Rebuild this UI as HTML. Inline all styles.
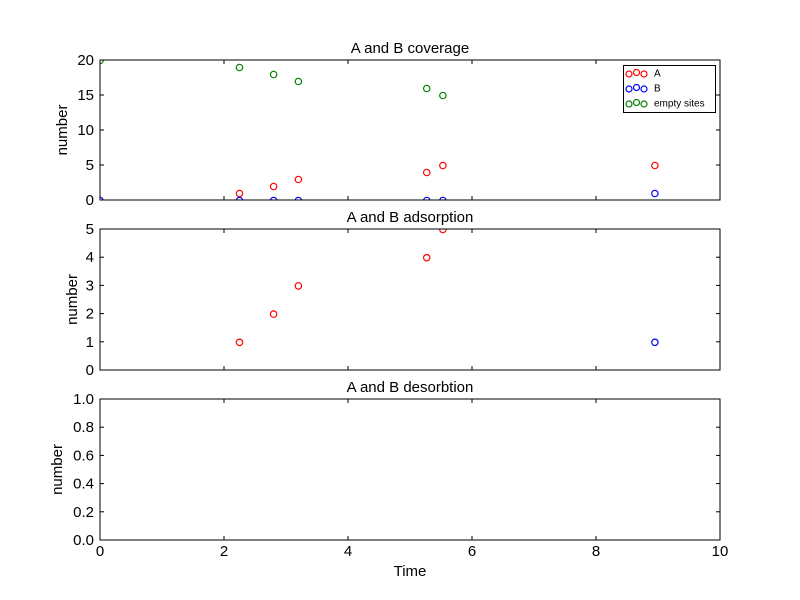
<!DOCTYPE html>
<html><head><meta charset="utf-8"><style>
body{margin:0;background:#fff}
svg{display:block;font-family:"Liberation Sans","DejaVu Sans",sans-serif}
</style></head><body>
<svg id="chart" width="800" height="600" viewBox="0 0 800 600"></svg>
<script>
const xTicks=[0,2,4,6,8,10];
const covTimes=[0,2.25,2.8,3.2,5.27,5.53,8.95];
const covA=[0,1,2,3,4,5,5];
const covB=[0,0,0,0,0,0,1];
const emptyTimes=[0,2.25,2.8,3.2,5.27,5.53];
const covEmpty=[20,19,18,17,16,15];
const adsATimes=[2.25,2.8,3.2,5.27,5.53];
const adsA=[1,2,3,4,5];
const adsBTimes=[8.95];
const adsB=[1];
const panels=[
 {title:"A and B coverage",top:60,bot:200,ymin:0,ymax:20,ticks:[0,5,10,15,20],labels:["0","5","10","15","20"]},
 {title:"A and B adsorption",top:229,bot:370,ymin:0,ymax:5,ticks:[0,1,2,3,4,5],labels:["0","1","2","3","4","5"]},
 {title:"A and B desorbtion",top:399,bot:540,ymin:0,ymax:1,ticks:[0,0.2,0.4,0.6,0.8,1],labels:["0.0","0.2","0.4","0.6","0.8","1.0"]}
];
const NS="http://www.w3.org/2000/svg";
const svg=document.getElementById('chart');
const L=100,R=720;
function x(v){return L+(v-0)/(10-0)*(R-L);}
function mk(tag,attrs,parent){const e=document.createElementNS(NS,tag);for(const k in attrs)e.setAttribute(k,attrs[k]);(parent||svg).appendChild(e);return e;}
panels.forEach((p,i)=>{
 const y=v=>p.bot-(v-p.ymin)/(p.ymax-p.ymin)*(p.bot-p.top);
 p.y=y;
 const g=mk('g',{});
 
 
 const clipId='clip'+i;
 const cp=mk('clipPath',{id:clipId},g);mk('rect',{x:L-0.5,y:p.top-0.5,width:R-L+1,height:p.bot-p.top+1},cp);
 p.g=g;p.clip=clipId;
 const t=mk('text',{x:410,y:p.top-7,'text-anchor':'middle','font-size':15},g);t.textContent=p.title;
 
 
 p.ticks.forEach((tv,j)=>{
  const yy=y(tv);
  mk('line',{x1:L,x2:L+4,y1:yy,y2:yy,stroke:'#000'},g);
  mk('line',{x1:R,x2:R-4,y1:yy,y2:yy,stroke:'#000'},g);
  const tl=mk('text',{x:L-6,y:yy+5,'text-anchor':'end','font-size':15},g);tl.textContent=p.labels[j];
  
  
 });
 xTicks.forEach(tv=>{
  const xx=x(tv);
  mk('line',{x1:xx,x2:xx,y1:p.bot,y2:p.bot-4,stroke:'#000'},g);
  mk('line',{x1:xx,x2:xx,y1:p.top,y2:p.top+4,stroke:'#000'},g);
  if(i===2){const tl=mk('text',{x:xx,y:p.bot+16,'text-anchor':'middle','font-size':15},g);tl.textContent=String(tv);
   
   }
 });
 const yl=mk('text',{transform:`translate(${i===2?62:(i===1?77:67)},${(p.top+p.bot)/2}) rotate(-90)`,'text-anchor':'middle','font-size':15},g);yl.textContent='number';
 
 
});
function pts(p,xs,ys,color,name){
 const g=mk('g',{'clip-path':`url(#${p.clip})`},p.g);
 
 
 xs.forEach((xv,k)=>{const c=mk('circle',{cx:x(xv),cy:p.y(ys[k])+0.5,r:3.2,fill:'none',stroke:color,'stroke-width':1.2},g);
  
  });
}
pts(panels[0],emptyTimes,covEmpty,'#008000','series-empty');
pts(panels[0],covTimes,covA,'#ff0000','series-a');
pts(panels[0],covTimes,covB,'#0000ff','series-b');
pts(panels[1],adsATimes,adsA,'#ff0000','series-a-ads');
pts(panels[1],adsBTimes,adsB,'#0000ff','series-b-ads');
panels.forEach(p=>mk('rect',{x:L,y:p.top,width:R-L,height:p.bot-p.top,fill:'none',stroke:'#000','stroke-width':1},p.g));
const xt=mk('text',{x:410,y:576,'text-anchor':'middle','font-size':15});xt.textContent='Time';


const lg=mk('g',{});


mk('rect',{x:623.5,y:65.5,width:92,height:47,fill:'#fff',stroke:'#000'},lg);
[['A','#ff0000',73],['B','#0000ff',88],['empty sites','#008000',103]].forEach(([lab,c,yy])=>{
 const e=mk('g',{},lg);
 
 
 [[629,yy+1],[636.5,yy-0.5],[644,yy+1]].forEach(([cx,cy])=>mk('circle',{cx,cy,r:3,fill:'none',stroke:c,'stroke-width':1.2},e));
 const t=mk('text',{x:654,y:yy+3.5,'font-size':10},e);t.textContent=lab;
});
</script>
</body></html>
